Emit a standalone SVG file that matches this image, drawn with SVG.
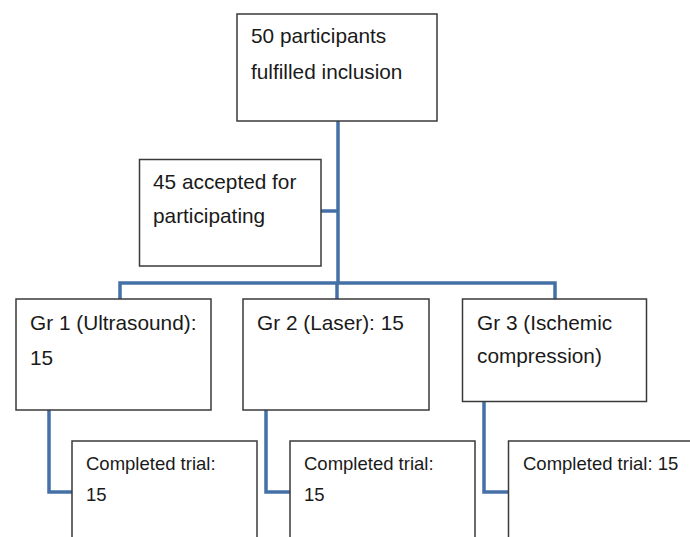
<svg xmlns="http://www.w3.org/2000/svg" width="690" height="537" viewBox="0 0 690 537">
<style>
.box{fill:#fff;stroke:#3a3a3a;stroke-width:1.5}
.t{font-family:"Liberation Sans",Arial,sans-serif;font-size:20.8px;fill:#1a1a1a}
.s{font-family:"Liberation Sans",Arial,sans-serif;font-size:18.5px;fill:#1a1a1a}
.c{fill:none;stroke:#4470a6;stroke-width:3.5;stroke-linejoin:miter}
</style>
<rect width="690" height="537" fill="#fff"/>
<g id="connectors">
<path class="c" d="M338 121V283"/>
<path class="c" d="M321 211H338"/>
<path class="c" d="M120 299V283H555V299"/>
<path class="c" d="M337 283V299"/>
<path class="c" d="M49 410V492H72"/>
<path class="c" d="M266 410V492H290"/>
<path class="c" d="M484 402V492H508"/>
</g>
<g id="n1">
<rect class="box" x="237" y="14" width="200" height="107"/>
<text class="t" x="251" y="43">50 participants</text>
<text class="t" x="251" y="79">fulfilled inclusion</text>
</g>
<g id="n2">
<rect class="box" x="139.5" y="159.5" width="181.5" height="106.5"/>
<text class="t" x="153" y="189">45 accepted for</text>
<text class="t" x="153" y="223">participating</text>
</g>
<g id="g1">
<rect class="box" x="16" y="299" width="195" height="111"/>
<text class="t" x="30" y="330">Gr 1 (Ultrasound):</text>
<text class="t" x="30" y="365">15</text>
</g>
<g id="g2">
<rect class="box" x="243" y="299" width="186" height="111"/>
<text class="t" x="257" y="330">Gr 2 (Laser): 15</text>
</g>
<g id="g3">
<rect class="box" x="462.5" y="299" width="184" height="102.5"/>
<text class="t" x="477" y="330">Gr 3 (Ischemic</text>
<text class="t" x="477" y="363">compression)</text>
</g>
<g id="c1">
<rect class="box" x="72" y="441" width="185" height="110"/>
<text class="s" x="86" y="470">Completed trial:</text>
<text class="s" x="86" y="501">15</text>
</g>
<g id="c2">
<rect class="box" x="290" y="441" width="185" height="110"/>
<text class="s" x="304" y="470">Completed trial:</text>
<text class="s" x="304" y="501">15</text>
</g>
<g id="c3">
<rect class="box" x="508.5" y="441" width="200" height="110"/>
<text class="s" x="523" y="470">Completed trial: 15</text>
</g>
</svg>
